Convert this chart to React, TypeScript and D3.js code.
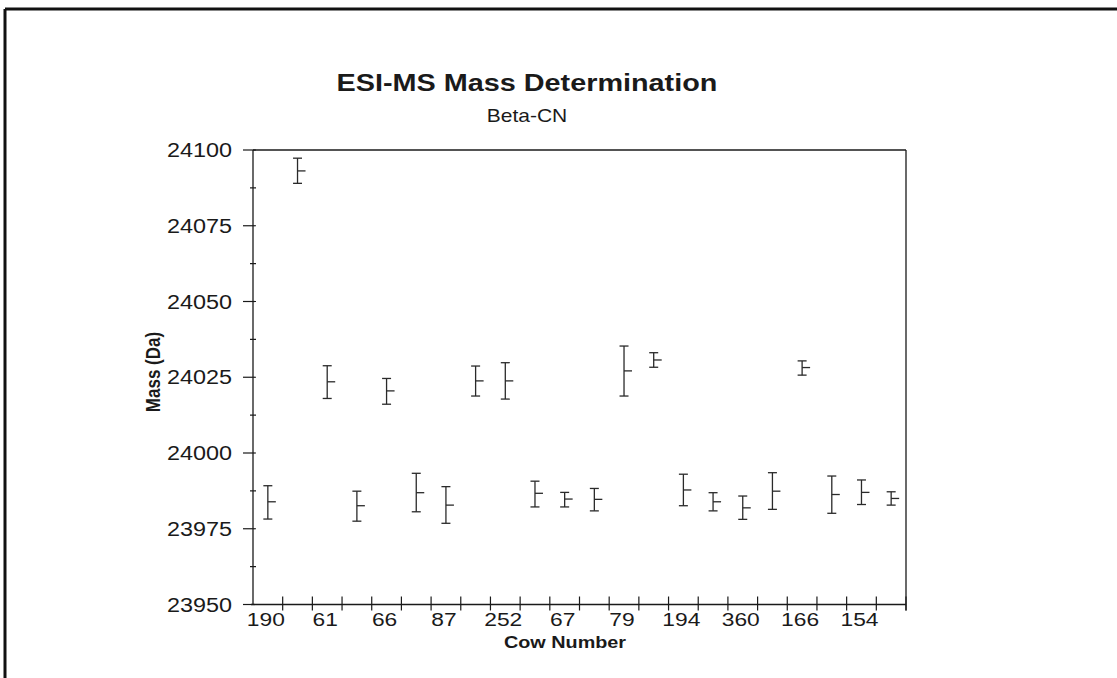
import React from "react";
import * as d3 from "d3";

const categories = ["190", "", "61", "", "66", "", "87", "", "252", "", "67", "", "79", "", "194", "", "360", "", "166", "", "154", ""];
const means = [23983.9, 24093.1, 24023.5, 23982.6, 24020.5, 23986.9, 23982.8, 24023.8, 24023.8, 23986.7, 23984.8, 23984.7, 24027.1, 24030.7, 23987.8, 23983.9, 23981.9, 23987.4, 24028.2, 23986.3, 23987.0, 23985.0];
const highs = [23989.2, 24097.3, 24028.8, 23987.4, 24024.6, 23993.3, 23988.9, 24028.7, 24029.8, 23990.7, 23987.0, 23988.3, 24035.3, 24033.1, 23993.0, 23986.9, 23985.8, 23993.5, 24030.4, 23992.4, 23991.1, 23987.2];
const lows = [23978.2, 24089.0, 24018.0, 23977.5, 24016.1, 23980.6, 23976.8, 24018.8, 24017.8, 23982.2, 23982.2, 23980.9, 24018.8, 24028.3, 23982.6, 23980.9, 23978.1, 23981.4, 24025.7, 23980.1, 23983.0, 23982.8];
const yTicks = [23950, 23975, 24000, 24025, 24050, 24075, 24100];
const yMinorTicks = [23962.5, 23987.5, 24012.5, 24037.5, 24062.5, 24087.5];

const W = 1117;
const H = 678;
const left = 253;
const right = 906;
const top = 150;
const bottom = 604.5;
const SX = 1.2;
const ink = "#1a1a1a";
const font = "'Liberation Sans', Arial, Helvetica, sans-serif";

export default function App() {
  const idx = categories.map((_, i) => String(i));
  const x = d3.scaleBand().domain(idx).range([left, right]).padding(0);
  const y = d3.scaleLinear().domain([23950, 24100]).range([bottom, top]);
  const bw = x.bandwidth();

  return (
    <svg width={W} height={H} style={{ position: "absolute", left: 0, top: 0, background: "#fff" }}>
      <rect x={0} y={0} width={W} height={H} fill="#fff" />
      {/* outer frame */}
      <line x1={5} y1={9} x2={W} y2={9} stroke="#111" strokeWidth={3} />
      <line x1={5} y1={9} x2={5} y2={H} stroke="#111" strokeWidth={3} />

      {/* title */}
      <text transform={`translate(527,91) scale(${SX},1)`} textAnchor="middle" fontFamily={font} fontWeight="bold" fontSize={24} fill={ink}>
        ESI-MS Mass Determination
      </text>
      <text transform={`translate(527,122) scale(${SX},1)`} textAnchor="middle" fontFamily={font} fontSize={17.5} fill={ink}>
        Beta-CN
      </text>

      {/* plot frame */}
      <line x1={left} y1={top} x2={right} y2={top} stroke={ink} strokeWidth={1.3} />
      <line x1={right} y1={top} x2={right} y2={bottom + 6} stroke={ink} strokeWidth={1.3} />
      <line x1={left} y1={top} x2={left} y2={bottom} stroke={ink} strokeWidth={1.3} />
      <line x1={left - 2} y1={bottom} x2={right} y2={bottom} stroke={ink} strokeWidth={1.3} />

      {/* y ticks */}
      {yTicks.map((t) => (
        <g key={t}>
          <line x1={left - 10} x2={left + 3} y1={y(t)} y2={y(t)} stroke={ink} strokeWidth={1.2} />
          <text transform={`translate(${left - 21},${y(t) + 7}) scale(${SX},1)`} textAnchor="end" fontFamily={font} fontSize={19.5} fill={ink}>
            {t}
          </text>
        </g>
      ))}
      {yMinorTicks.map((t) => (
        <line key={t} x1={left - 3} x2={left + 3} y1={y(t)} y2={y(t)} stroke={ink} strokeWidth={1.2} />
      ))}

      {/* x ticks */}
      {idx.map((k) => (
        <line key={k} x1={(x(k) as number) + bw} x2={(x(k) as number) + bw} y1={bottom - 8} y2={bottom + 6} stroke={ink} strokeWidth={1.2} />
      ))}
      {categories.map((c, i) =>
        c ? (
          <text key={i} transform={`translate(${(x(String(i)) as number) + bw / 2 - 2},${626}) scale(${SX},1)`} textAnchor="middle" fontFamily={font} fontSize={19} fill={ink}>
            {c}
          </text>
        ) : null
      )}

      {/* axis titles */}
      <text transform={`translate(565,648) scale(${SX},1)`} textAnchor="middle" fontFamily={font} fontWeight="bold" fontSize={16.5} fill={ink}>
        Cow Number
      </text>
      <text transform={`translate(160,372) rotate(-90) scale(1,${SX})`} textAnchor="middle" fontFamily={font} fontWeight="bold" fontSize={17} fill={ink}>
        Mass (Da)
      </text>

      {/* error bars */}
      {means.map((m, i) => {
        const cx = (x(String(i)) as number) + bw / 2;
        const yh = y(highs[i]);
        const yl = y(lows[i]);
        const ym = y(m);
        return (
          <g key={i} stroke="#2a2a2a" strokeWidth={1.3}>
            <line x1={cx} x2={cx} y1={yh} y2={yl} />
            <line x1={cx - 4.5} x2={cx + 4.5} y1={yh} y2={yh} />
            <line x1={cx - 4.5} x2={cx + 4.5} y1={yl} y2={yl} />
            <line x1={cx} x2={cx + 8} y1={ym} y2={ym} />
          </g>
        );
      })}
    </svg>
  );
}
